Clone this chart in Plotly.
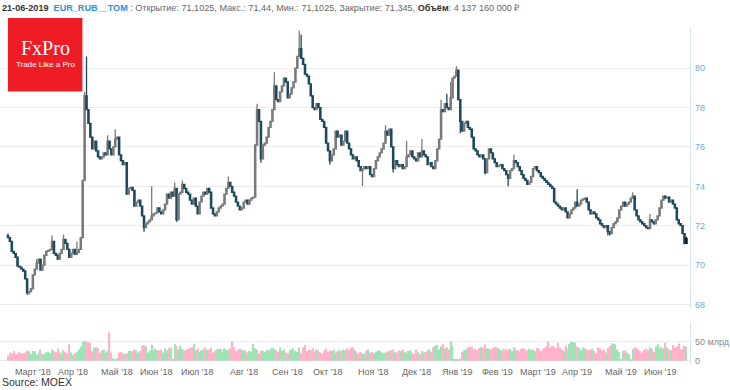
import plotly.graph_objects as go

# ---------------- data ----------------
CLOSE = [
    71.4, 71.2, 70.7, 70.6, 70.4, 69.95, 69.9, 69.8, 69.7, 69.3,
    68.6, 68.65, 68.8, 69.5, 69.8, 70.1, 70.3, 69.75, 70.0, 70.5,
    70.7, 70.75, 70.8, 71.2, 70.6, 70.5, 70.3, 70.6, 70.8, 71.3,
    71.1, 70.8, 70.4, 70.6, 70.8, 70.55, 70.65, 70.8, 71.4, 74.3,
    78.6, 77.9, 77.2, 76.5, 75.9, 76.3, 75.8, 75.5, 75.4, 75.5,
    75.7, 75.6, 76.3, 75.9, 75.6, 76.0, 76.4, 76.5, 75.6, 75.3,
    75.1, 75.2, 73.6, 73.9, 73.95, 73.8, 73.0, 73.2, 73.3, 73.0,
    72.5, 71.9, 72.1, 72.2, 72.3, 72.5, 72.6, 72.65, 72.9, 72.7,
    72.6, 72.8, 73.1, 73.6, 73.4, 73.7, 73.5, 73.9, 72.3, 73.6,
    73.7, 74.1, 73.9, 73.7, 73.6, 73.3, 73.1, 73.4, 73.0, 72.6,
    73.2, 73.5, 73.7, 73.6, 73.9, 73.7, 72.9, 72.6, 72.5, 72.7,
    72.9, 73.0, 73.1, 73.6, 73.9, 74.2, 74.0, 73.7, 73.5, 73.2,
    73.0, 72.8, 72.9, 73.2, 73.3, 73.1, 73.3, 73.4, 73.45, 76.1,
    77.9, 77.3, 75.4, 76.1, 76.2, 76.5, 77.0, 77.3, 77.9, 79.1,
    78.4, 78.3, 78.8, 79.1, 79.5, 79.3, 78.5, 78.7, 79.0, 79.3,
    80.0, 80.6, 81.0, 80.5, 80.2, 79.7, 79.6, 79.2, 78.6, 78.0,
    77.9, 78.2, 78.0, 77.4, 77.3, 77.0, 76.2, 75.8, 75.3, 75.6,
    75.9, 76.8, 76.5, 76.6, 76.1, 76.3, 76.8, 76.2, 75.9, 75.6,
    75.4, 75.5, 75.3, 75.0, 74.8, 74.9, 75.0, 74.9, 75.0, 74.6,
    74.5, 74.9, 75.3, 75.5, 75.7, 75.9, 76.2, 76.8, 76.6, 76.9,
    76.0, 74.9, 75.3, 75.1, 75.0, 75.1, 74.9, 75.0, 75.5, 75.6,
    75.8, 75.5, 75.4, 75.3, 75.7, 75.5, 75.8, 75.6, 75.5, 75.1,
    75.2, 75.0, 74.9, 75.3, 75.9, 76.4, 77.9, 77.8, 78.2, 78.0,
    77.9, 78.5, 79.5, 79.6, 79.9, 78.4, 77.3, 76.8, 77.2, 77.3,
    77.0, 76.9, 76.5, 75.9, 75.8, 75.6, 75.5, 75.6, 75.4, 74.7,
    75.4, 75.9, 75.7, 75.4, 75.2, 75.0, 75.05, 75.1, 74.9, 74.8,
    74.6, 74.4, 74.8, 74.9, 75.3, 75.2, 75.0, 74.8, 74.6, 74.4,
    74.3, 74.1, 74.2, 74.5, 74.9, 75.0, 74.8, 74.7, 74.5, 74.4,
    74.3, 74.2, 74.1, 74.0, 73.9, 73.2, 73.1, 73.0, 72.9, 72.8,
    72.9, 72.7, 72.4, 72.6, 72.8, 72.9, 73.2, 73.0, 73.1, 73.3,
    73.35, 73.4, 73.2, 72.8, 72.6, 72.7, 72.6, 72.4, 72.3, 72.1,
    72.0, 71.9, 72.0, 71.7, 71.6, 71.9, 72.1, 72.2, 72.4, 72.8,
    73.0, 73.2, 73.0, 73.1, 73.2, 73.4, 73.5, 72.8, 72.5, 72.3,
    72.2, 72.1, 72.0, 71.9, 71.85, 72.3, 72.2, 72.1, 72.3, 72.5,
    72.9, 73.3, 73.5, 73.4, 73.45, 73.2, 73.3, 73.1, 72.9, 72.3,
    72.1, 72.0, 71.6, 71.1025, 71.345,
]
FIRST_OPEN = 71.5
HIGH_WICKS = {0: 71.6, 15: 70.3, 23: 71.5, 29: 71.55, 36: 71.2, 40: 78.8,
              41: 80.6, 52: 76.6, 56: 76.9, 75: 74.0, 87: 74.2, 91: 74.3,
              115: 74.5, 130: 78.2, 139: 79.8, 152: 81.9, 153: 81.7,
              197: 77.1, 208: 76.3, 216: 76.4, 226: 78.4, 229: 78.7,
              231: 79.3, 234: 80.1, 264: 75.6, 297: 73.85, 326: 73.7,
              335: 72.6, 354: 71.44}
LOW_WICKS = {10: 68.5, 11: 68.5, 71: 71.7, 88: 72.2, 132: 75.2, 168: 75.1,
             185: 74.0, 201: 74.7, 236: 76.7, 249: 74.6, 261: 74.0,
             313: 71.5, 314: 71.5, 353: 71.05}

VOLUME = [
    14, 22, 20, 26, 18, 16, 24, 19, 20, 21, 27, 25, 18, 26, 25, 16, 21, 30, 18, 17,
    22, 24, 20, 29, 26, 23, 33, 22, 18, 28, 24, 20, 44, 22, 16, 20, 24, 30, 38, 50,
    53, 52, 50, 48, 25, 35, 36, 33, 22, 28, 30, 20, 25, 75, 22, 6, 4, 7, 22, 24,
    20, 18, 20, 26, 26, 25, 30, 28, 22, 26, 40, 42, 38, 22, 28, 42, 26, 32, 28, 28,
    30, 22, 33, 28, 34, 36, 5, 44, 40, 30, 40, 32, 28, 30, 32, 34, 36, 45, 28, 33,
    24, 28, 30, 36, 30, 30, 35, 22, 27, 30, 32, 31, 22, 33, 30, 28, 34, 51, 36, 25,
    30, 32, 30, 26, 28, 22, 26, 24, 45, 33, 29, 20, 27, 26, 24, 29, 25, 30, 35, 32,
    28, 24, 35, 26, 30, 22, 20, 28, 30, 33, 26, 24, 35, 20, 36, 42, 26, 30, 28, 33,
    24, 30, 28, 22, 20, 27, 32, 24, 28, 26, 30, 21, 25, 29, 26, 30, 28, 33, 30, 35,
    36, 28, 22, 18, 24, 20, 18, 26, 30, 22, 23, 20, 24, 28, 26, 22, 20, 21, 24, 26,
    28, 30, 24, 22, 27, 26, 30, 24, 20, 26, 28, 22, 18, 30, 24, 18, 26, 22, 24, 28,
    30, 24, 36, 40, 42, 30, 38, 44, 33, 36, 30, 51, 38, 5, 4, 5, 6, 24, 28, 30,
    36, 38, 37, 30, 32, 28, 34, 36, 35, 44, 33, 32, 30, 34, 36, 35, 33, 30, 28, 32,
    29, 30, 32, 26, 36, 30, 28, 24, 32, 34, 30, 28, 32, 29, 30, 26, 34, 32, 26, 30,
    33, 38, 51, 36, 40, 38, 34, 48, 36, 30, 26, 40, 32, 44, 50, 50, 48, 38, 34, 28,
    35, 33, 30, 28, 30, 32, 26, 20, 35, 33, 28, 30, 22, 34, 40, 45, 46, 44, 30, 24,
    4, 26, 28, 22, 18, 4, 32, 36, 34, 30, 26, 22, 30, 32, 28, 36, 32, 24, 38, 44,
    32, 36, 33, 48, 35, 30, 28, 42, 35, 38, 46, 30, 32, 40, 38,
]

# month tick labels and the candle index (trading-day position) at which each sits
MONTH_LABELS = ["Март '18", "Апр '18", "Май '18", "Июн '18", "Июл '18", "Авг '18",
                "Сен '18", "Окт '18", "Ноя '18", "Дек '18", "Янв '19", "Фев '19",
                "Март '19", "Апр '19", "Май '19", "Июн '19"]
MONTH_TICK_IDX = [13.0, 33.9, 57.0, 77.5, 98.7, 123.3, 146.1, 166.8,
                  190.7, 213.0, 234.2, 255.4, 276.6, 296.8, 319.7, 340.4]

PRICE_TICKS = [68, 70, 72, 74, 76, 78, 80, 82]
VOLUME_TICKS = [0, 50, 100]
VOLUME_TICK_TEXT = ["0", "50 млрд", ""]

HEADER = ("<b>21-06-2019</b>  <b><span style='color:#2f8fd6'>EUR_RUB__TOM</span></b>"
          "<span style='color:#666'> : Открытие: 71,1025, Макс.: 71,44, Мин.: 71,1025, "
          "Закрытие: 71,345, </span><b>Объём</b><span style='color:#666'>: 4 137 160 000 ₽</span>")

# ---------------- derived ----------------
n = len(CLOSE)
idx = list(range(n))
opens = [FIRST_OPEN] + CLOSE[:-1]
highs = [max(o, c, HIGH_WICKS.get(i, c)) for i, (o, c) in enumerate(zip(opens, CLOSE))]
lows = [min(o, c, LOW_WICKS.get(i, c)) for i, (o, c) in enumerate(zip(opens, CLOSE))]
vol_colors = ["#9fe3b4" if c >= o else "#ffb3cb" for o, c in zip(opens, CLOSE)]

W, H = 730, 390
def py(p):
    return 1 - p / H
def px(p):
    return p / W

fig = go.Figure()
fig.add_trace(go.Candlestick(
    x=idx[:-1], open=opens[:-1], high=highs[:-1], low=lows[:-1], close=CLOSE[:-1],
    increasing=dict(line=dict(color="#7a7a7a", width=1.3), fillcolor="#9a9a9a"),
    decreasing=dict(line=dict(color="#1c4a5c", width=1.3), fillcolor="#1f5268"),
    whiskerwidth=0, hoverinfo="skip", xaxis="x", yaxis="y", showlegend=False))
fig.add_trace(go.Candlestick(
    x=idx[-1:], open=opens[-1:], high=highs[-1:], low=lows[-1:], close=CLOSE[-1:],
    increasing=dict(line=dict(color="#111111", width=1.3), fillcolor="#111111"),
    decreasing=dict(line=dict(color="#111111", width=1.3), fillcolor="#111111"),
    whiskerwidth=0, hoverinfo="skip", xaxis="x", yaxis="y", showlegend=False))
fig.add_trace(go.Bar(
    x=idx, y=VOLUME, marker=dict(color=vol_colors, line=dict(width=0)),
    xaxis="x2", yaxis="y2", showlegend=False, hoverinfo="skip"))

xr = [-4.15, 356]
plot_right = px(695)
fig.update_layout(
    width=W, height=H, margin=dict(l=0, r=0, t=0, b=0),
    paper_bgcolor="white", plot_bgcolor="white", bargap=0.35, boxgap=0.05,
    font=dict(family="Liberation Sans, Arial, sans-serif"),
    xaxis=dict(domain=[0, plot_right], range=xr, showgrid=False, zeroline=False,
               showticklabels=False, showline=False, rangeslider=dict(visible=False),
               fixedrange=True),
    yaxis=dict(domain=[py(310), py(28)], range=[67.8, 82.05], side="right",
               tickvals=PRICE_TICKS, ticktext=[str(v) if v < 82 else "" for v in PRICE_TICKS],
               gridcolor="#ececec", gridwidth=1, zeroline=False,
               showline=True, linecolor="#d3e3f0", linewidth=1,
               tickfont=dict(size=9, color="#6aaee0"), ticks="", ticklabelstandoff=2),
    xaxis2=dict(domain=[0, plot_right], range=xr, anchor="y2", showgrid=False,
                zeroline=False, showticklabels=False, showline=False),
    yaxis2=dict(domain=[py(366), py(324)], range=[-8.9, 102], side="right", anchor="x2",
                tickvals=VOLUME_TICKS, ticktext=VOLUME_TICK_TEXT,
                gridcolor="#ececec", zeroline=False,
                showline=True, linecolor="#d3e3f0", linewidth=1,
                tickfont=dict(size=9, color="#888888"), ticks="", ticklabelstandoff=2),
)

ann = []
for pos, lab in zip(MONTH_TICK_IDX, MONTH_LABELS):
    ann.append(dict(x=pos, y=py(373.5), xref="x2", yref="paper", showarrow=False,
                    text=lab, font=dict(size=9, color="#666666"),
                    xanchor="center", yanchor="middle"))

ann.append(dict(x=0, y=py(384), xref="paper", yref="paper", showarrow=False,
                text="Source: MOEX", font=dict(size=10.5, color="#333333"),
                xanchor="left", yanchor="middle"))
ann.append(dict(x=0, y=py(8), xref="paper", yref="paper", showarrow=False,
                text=HEADER, font=dict(size=9.1, color="#333333",
                                       family="Liberation Sans, Arial, sans-serif"),
                xanchor="left", yanchor="middle"))
# logo
ann.append(dict(x=px(45.5), y=py(48), xref="paper", yref="paper", showarrow=False,
                text="FxPro", font=dict(size=20, color="white",
                                        family="Liberation Serif, Times New Roman, serif"),
                xanchor="center", yanchor="middle"))
ann.append(dict(x=px(46), y=py(65), xref="paper", yref="paper", showarrow=False,
                text="Trade Like a Pro", font=dict(size=8, color="white"),
                xanchor="center", yanchor="middle"))
fig.update_layout(annotations=ann)
fig.add_shape(type="rect", xref="paper", yref="paper",
              x0=px(8), x1=px(83), y0=py(92), y1=py(18),
              fillcolor="#ee1c24", line=dict(width=0), layer="above")

fig.write_html("out.html", config={"displayModeBar": False},
               post_script="document.body.style.margin='0';document.body.style.padding='0';")
